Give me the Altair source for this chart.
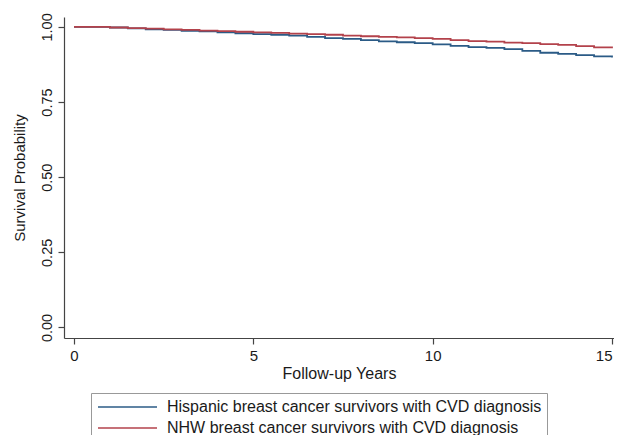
import altair as alt
import pandas as pd

years = [0, 0.5, 1, 1.5, 2, 2.5, 3, 3.5, 4, 4.5, 5, 5.5, 6, 6.5, 7, 7.5,
         8, 8.5, 9, 9.5, 10, 10.5, 11, 11.5, 12, 12.5, 13, 13.5, 14, 14.5, 15]

hispanic = [1.000, 1.000, 0.998, 0.995, 0.992, 0.990, 0.987, 0.985, 0.982, 0.979,
            0.976, 0.974, 0.971, 0.967, 0.963, 0.960, 0.956, 0.952, 0.949, 0.946,
            0.942, 0.937, 0.933, 0.930, 0.926, 0.920, 0.914, 0.910, 0.906, 0.902,
            0.898]

nhw = [1.000, 1.000, 0.998, 0.996, 0.994, 0.992, 0.990, 0.988, 0.986, 0.984,
       0.982, 0.980, 0.978, 0.976, 0.974, 0.971, 0.969, 0.967, 0.965, 0.963,
       0.960, 0.956, 0.953, 0.951, 0.948, 0.946, 0.943, 0.940, 0.936, 0.932,
       0.929]

groups = ["Hispanic breast cancer survivors with CVD diagnosis",
          "NHW breast cancer survivors with CVD diagnosis"]
colors = ["#2b5b86", "#b3424b"]

x_ticks = [0, 5, 10, 15]
y_ticks = [0, 0.25, 0.5, 0.75, 1.0]

df = pd.concat([
    pd.DataFrame({"year": years, "surv": hispanic, "group": groups[0], "order": 0}),
    pd.DataFrame({"year": years, "surv": nhw, "group": groups[1], "order": 1}),
])

FONT = "Liberation Sans"

chart = alt.Chart(df).mark_line(interpolate="step-after", strokeWidth=1.8).encode(
    x=alt.X("year:Q",
            scale=alt.Scale(domain=[-0.279, 15.056], nice=False, zero=False),
            axis=alt.Axis(values=x_ticks, format="d", title="Follow-up Years",
                          grid=False, tickSize=6, labelPadding=4, titlePadding=2,
                          labelFontSize=15, titleFontSize=16,
                          labelFlush=5, labelFlushOffset=0,
                          titleFontWeight="normal")),
    y=alt.Y("surv:Q",
            scale=alt.Scale(domain=[-0.035, 1.033], nice=False, zero=False),
            axis=alt.Axis(values=y_ticks, format=".2f", title="Survival Probability",
                          grid=False, tickSize=6, labelPadding=4, titlePadding=12,
                          labelAngle=270, labelAlign="center", labelBaseline="bottom",
                          labelFontSize=14.5, titleFontSize=15,
                          titleFontWeight="normal")),
    color=alt.Color("group:N",
                    scale=alt.Scale(domain=groups, range=colors),
                    legend=alt.Legend(title=None, orient="none", legendX=27, legendY=376,
                                      direction="vertical", strokeColor="#999999",
                                      fillColor="white", padding=5,
                                      symbolType="M-0.875,0H6.5", symbolSize=256,
                                      symbolStrokeWidth=1.6, labelFontSize=16,
                                      labelOffset=53, rowPadding=4,
                                      labelColor="#1a1a1a", labelLimit=0)),
    detail="order:O",
).properties(
    width=550,
    height=321,
    autosize=alt.AutoSizeParams(type="none"),
    padding={"left": 56, "top": 9, "right": 0, "bottom": 97},
).configure(
    font=FONT,
).configure_view(
    stroke=None,
).configure_axis(
    domainColor="#444444",
    tickColor="#444444",
    labelColor="#1a1a1a",
    titleColor="#1a1a1a",
    labelFont=FONT,
    titleFont=FONT,
    domainWidth=1.2,
    tickWidth=1.2,
).configure_legend(
    labelFont=FONT,
)

chart.save("out.html", embed_options={"renderer": "svg", "actions": False})
